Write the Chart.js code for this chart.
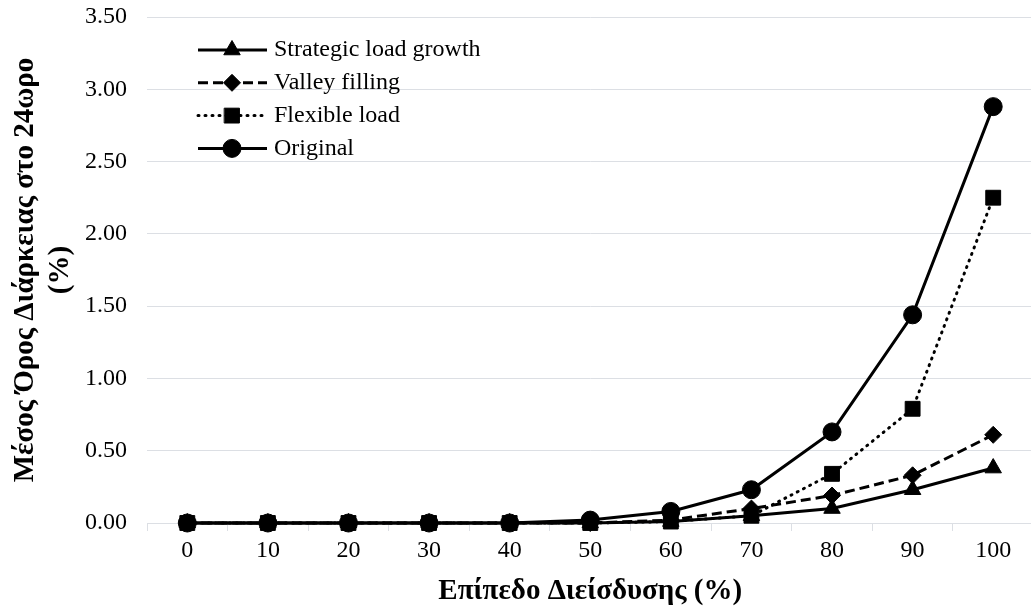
<!DOCTYPE html>
<html>
<head>
<meta charset="utf-8">
<script src="https://cdn.jsdelivr.net/npm/chart.js"></script>
<style>
  html, body { margin: 0; padding: 0; background: #fff; overflow: hidden; }
  #wrap { width: 1045px; height: 610px; }
</style>
</head>
<body>
<div id="wrap"><canvas id="chart" width="1045" height="610"></canvas></div>
<script>
const levels = ['0', '10', '20', '30', '40', '50', '60', '70', '80', '90', '100']
const strategicGrowth = [0, 0, 0, 0, 0, 0, 0.01, 0.05, 0.10, 0.23, 0.38]
const valleyFilling = [0, 0, 0, 0, 0, 0, 0.02, 0.10, 0.19, 0.33, 0.61]
const flexibleLoad = [0, 0, 0, 0, 0, 0, 0.01, 0.05, 0.34, 0.79, 2.25]
const original = [0, 0, 0, 0, 0, 0.02, 0.08, 0.23, 0.63, 1.44, 2.88]
const yTicks = [0, 0.5, 1, 1.5, 2, 2.5, 3, 3.5]

const serif = "'Liberation Serif', 'Times New Roman', serif"
const gridColor = '#dcdfe4'

const line = (label, data, style, radius, dash, order) => ({
  label,
  data,
  order,
  borderColor: '#000',
  backgroundColor: '#000',
  borderWidth: 3,
  borderDash: dash,
  borderCapStyle: dash.length && dash[0] < 2 ? 'round' : 'butt',
  pointStyle: style,
  pointRadius: radius,
  pointHoverRadius: radius,
  pointBorderWidth: 1,
  pointBackgroundColor: '#000',
  pointBorderColor: '#000',
  tension: 0,
  clip: false
})

// legend drawn inside the plot, top left
const innerLegend = {
  id: 'innerLegend',
  afterDraw (chart) {
    const ctx = chart.ctx
    const x0 = 198
    const x1 = 267
    const mx = 232
    const y0 = 50
    const step = 32.8
    ctx.save()
    chart.data.datasets.forEach((ds, i) => {
      const y = y0 + i * step
      ctx.beginPath()
      ctx.setLineDash(ds.borderDash)
      ctx.lineCap = ds.borderCapStyle
      ctx.lineWidth = ds.borderWidth
      ctx.strokeStyle = '#000'
      ctx.moveTo(x0, y)
      ctx.lineTo(x1, y)
      ctx.stroke()
      ctx.setLineDash([])
      ctx.fillStyle = '#000'
      ctx.lineWidth = 1
      Chart.helpers.drawPoint(ctx, {
        pointStyle: ds.pointStyle,
        radius: ds.pointRadius,
        rotation: 0,
        borderWidth: 1
      }, mx, y)
      ctx.font = '24px ' + serif
      ctx.textBaseline = 'middle'
      ctx.textAlign = 'left'
      ctx.fillText(ds.label, 274, y)
    })
    ctx.restore()
  }
}

new Chart(document.getElementById('chart'), { // eslint-disable-line
  type: 'line',
  data: {
    labels: levels,
    datasets: [
      line('Strategic load growth', strategicGrowth, 'triangle', 9.5, [], 3),
      line('Valley filling', valleyFilling, 'rectRot', 8.5, [10, 5], 2),
      line('Flexible load', flexibleLoad, 'rect', 10.5, [1, 6], 1),
      line('Original', original, 'circle', 9, [], 0)
    ]
  },
  options: {
    responsive: false,
    animation: false,
    layout: { padding: { top: 0, right: 2, left: 0, bottom: 0 } },
    plugins: {
      legend: { display: false },
      tooltip: { enabled: false }
    },
    scales: {
      x: {
        offset: true,
        grid: {
          offset: true,
          drawOnChartArea: false,
          drawTicks: true,
          tickLength: 8,
          color: gridColor
        },
        border: { display: true, color: gridColor, width: 1 },
        ticks: {
          color: '#000',
          padding: 5,
          maxRotation: 0,
          font: { family: serif, size: 24 }
        },
        title: {
          display: true,
          text: 'Επίπεδο Διείσδυσης (%)',
          color: '#000',
          padding: { top: 4, bottom: 1 },
          font: { family: serif, size: 29, weight: 'bold', lineHeight: 1.2 }
        },
        afterFit (scale) { scale.height = 87 }
      },
      y: {
        min: 0,
        max: 3.5,
        afterBuildTicks (scale) { scale.ticks = yTicks.map(v => ({ value: v })) },
        grid: { color: gridColor, drawTicks: false, lineWidth: 1 },
        border: { display: false },
        ticks: {
          color: '#000',
          padding: 20,
          font: { family: serif, size: 24 },
          callback: v => Number(v).toFixed(2)
        },
        title: {
          display: true,
          text: ['Μέσος Όρος Διάρκειας στο 24ωρο', '(%)'],
          color: '#000',
          padding: { top: 8, bottom: 0 },
          font: { family: serif, size: 29, weight: 'bold', lineHeight: 1.2 }
        },
        afterFit (scale) {
          scale.width = 147
          scale.paddingTop = 17
          scale.paddingBottom = 0
        }
      }
    }
  },
  plugins: [innerLegend]
})
</script>
</body>
</html>
